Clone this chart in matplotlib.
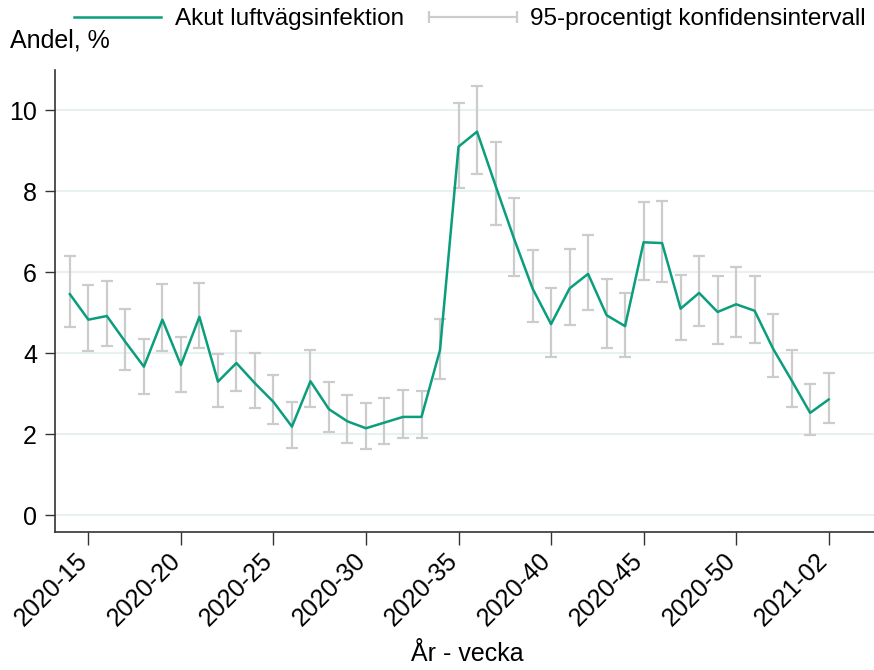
import numpy as np
import matplotlib.pyplot as plt
from matplotlib.lines import Line2D
from matplotlib.transforms import ScaledTranslation

plt.rcParams['font.family'] = ['Liberation Sans', 'DejaVu Sans']

# Veckor 2020-14 .. 2021-02
veckor = ['2020-%02d' % v for v in range(14, 54)] + ['2021-01', '2021-02']

andel = [5.46, 4.83, 4.92, 4.28, 3.67, 4.83, 3.71, 4.90, 3.30, 3.76,
         3.26, 2.80, 2.19, 3.31, 2.62, 2.32, 2.15, 2.29, 2.43, 2.43,
         4.08, 9.10, 9.47, 8.14, 6.83, 5.60, 4.72, 5.60, 5.96, 4.94,
         4.67, 6.74, 6.72, 5.10, 5.49, 5.02, 5.21, 5.05, 4.11, 3.33,
         2.53, 2.86]
ki_hog = [6.39, 5.68, 5.79, 5.09, 4.36, 5.72, 4.40, 5.74, 3.99, 4.56,
          4.01, 3.47, 2.79, 4.08, 3.29, 2.97, 2.78, 2.90, 3.09, 3.07,
          4.84, 10.18, 10.59, 9.21, 7.84, 6.56, 5.61, 6.57, 6.91, 5.83,
          5.50, 7.74, 7.77, 5.94, 6.41, 5.90, 6.13, 5.91, 4.96, 4.09,
          3.23, 3.52]
ki_lag = [4.64, 4.05, 4.17, 3.60, 2.99, 4.06, 3.05, 4.14, 2.68, 3.06,
          2.64, 2.25, 1.66, 2.68, 2.06, 1.78, 1.65, 1.77, 1.90, 1.92,
          3.37, 8.07, 8.42, 7.16, 5.90, 4.77, 3.90, 4.70, 5.06, 4.13,
          3.92, 5.80, 5.76, 4.32, 4.68, 4.23, 4.41, 4.26, 3.41, 2.68,
          1.98, 2.28]

gron = '#0a9e7c'
gra = '#cccccc'
fs = 18

x = np.arange(len(veckor))
andel = np.array(andel)
fel = [andel - np.array(ki_lag), np.array(ki_hog) - andel]

fig = plt.figure(figsize=(8.74, 6.70), dpi=100)
ax = fig.add_axes([0.063, 0.206, 0.937, 0.690])

ax.errorbar(x, andel, yerr=fel, fmt='none', ecolor=gra, elinewidth=1.6,
            capsize=4.5, capthick=1.6, zorder=2)
ax.plot(x, andel, color=gron, lw=1.8, zorder=3)

ax.set_xlim(-0.8, 43.45)
ax.set_ylim(-0.41, 11.0)
ax.set_yticks([0, 2, 4, 6, 8, 10])
ax.yaxis.grid(True, color='#e9f0f0', lw=1.5)
ax.set_axisbelow(True)

tick_idx = list(range(1, len(veckor), 5))
ax.set_xticks(tick_idx)
ax.set_xticklabels([veckor[i] for i in tick_idx], rotation=45, ha='right')
ax.tick_params(labelsize=fs, length=7, width=1, color='#333333')
ax.tick_params(axis='y', pad=6)
ax.tick_params(axis='x', length=9, pad=3)
for lab in ax.get_xticklabels():
    lab.set_transform(lab.get_transform() + ScaledTranslation(0.04, 0, fig.dpi_scale_trans))

for s in ['top', 'right']:
    ax.spines[s].set_visible(False)
for s in ['left', 'bottom']:
    ax.spines[s].set_color('#333333')
    ax.spines[s].set_linewidth(1.2)

fig.text(467 / 874, 1 - 654 / 670, 'År - vecka', fontsize=fs, ha='center', va='center')
fig.text(0.012, 0.94, 'Andel, %', fontsize=fs, va='center', ha='left')

h1 = Line2D([], [], color=gron, lw=1.8)
h2 = Line2D([], [], color=gra, lw=1.6, marker='|', markersize=9, markeredgewidth=1.6)
fig.legend([h1, h2], ['Akut luftvägsinfektion', '95-procentigt konfidensintervall'],
           loc='upper right', bbox_to_anchor=(1.01, 1.013), ncol=2, frameon=False,
           fontsize=17.5, handlelength=4.2, numpoints=2, columnspacing=0.75,
           handletextpad=0.25, borderaxespad=0.3)

fig.savefig('out.png', dpi=100)
